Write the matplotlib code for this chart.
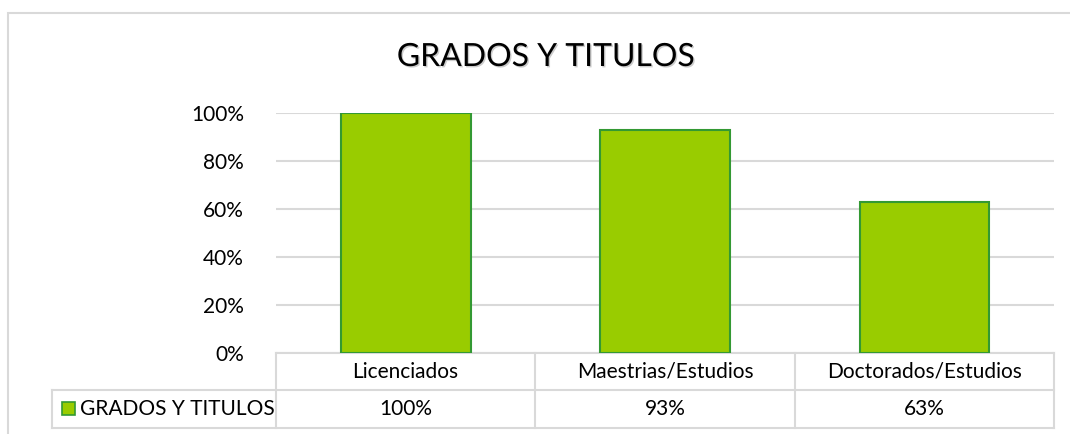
import matplotlib
matplotlib.use("Agg")
import matplotlib.pyplot as plt
import matplotlib.patheffects as pe
from matplotlib.patches import Rectangle
from matplotlib.transforms import blended_transform_factory

categorias = ["Licenciados", "Maestrias/Estudios", "Doctorados/Estudios"]
valores = [1.00, 0.93, 0.63]
etiquetas = ["100%", "93%", "63%"]
serie = "GRADOS Y TITULOS"
yticks = [0, 0.2, 0.4, 0.6, 0.8, 1.0]

plt.rcParams['font.family'] = ['Lato', 'DejaVu Sans']

W, H = 1070, 434
fig = plt.figure(figsize=(W / 100, H / 100), dpi=100)
fig.patch.set_facecolor("white")

# outer chart border (continues past the right/bottom edge)
fig.patches.append(Rectangle((8 / W, -0.1), 1.2, (H - 13) / H + 0.1,
                             transform=fig.transFigure, fill=False,
                             edgecolor="#d9d9d9", linewidth=1.5))

ax = fig.add_axes([276 / W, (H - 353) / H, (1054 - 276) / W, 240 / H])
x = range(len(categorias))
ax.bar(x, valores, width=0.5, color="#99cc00", edgecolor="#339933",
       linewidth=1.5, zorder=3)
ax.set_xlim(-0.5, 2.5)
ax.set_ylim(0, 1)
ax.set_yticks(yticks)
ax.set_yticklabels(["%d%%" % round(v * 100) for v in yticks], fontsize=15)
ax.set_xticks([])
ax.tick_params(axis="y", length=0, pad=23)
ax.grid(axis="y", color="#d9d9d9", linewidth=1.5, zorder=0)
for s in ax.spines.values():
    s.set_visible(False)

fig.text(546 / W, (H - 57) / H, serie, ha="center", va="center", fontsize=23,
         color="black",
         path_effects=[pe.SimplePatchShadow(offset=(1, -1), alpha=0.2), pe.Normal()])

# data table under the axis
tr = blended_transform_factory(ax.transData, ax.transAxes)
lc = "#d9d9d9"
r1 = -37 / 240
r2 = -75 / 240
lx = (52 - 276) / 778 * 3 - 0.5
ln = dict(color=lc, linewidth=1.5, clip_on=False, transform=tr, zorder=1)
ax.plot([-0.5, 2.5], [0, 0], **ln)
ax.plot([lx, 2.5], [r1, r1], **ln)
ax.plot([lx, 2.5], [r2, r2], **ln)
ax.plot([lx, lx], [r1, r2], **ln)
for b in [-0.5, 0.5, 1.5, 2.5]:
    ax.plot([b, b], [0, r2], **ln)

for i, (c, t) in enumerate(zip(categorias, etiquetas)):
    ax.text(i, r1 / 2, c, transform=tr, ha="center", va="center", fontsize=15)
    ax.text(i, (r1 + r2) / 2, t, transform=tr, ha="center", va="center", fontsize=15)

ax.add_patch(Rectangle((62 / W, (H - 415) / H), 13 / W, 13 / H,
                       transform=fig.transFigure, facecolor="#99cc00",
                       edgecolor="#339933", linewidth=1.2, clip_on=False))
fig.text(80 / W, (H - 409) / H, serie, ha="left", va="center", fontsize=15)

fig.savefig("out.png", dpi=100)
